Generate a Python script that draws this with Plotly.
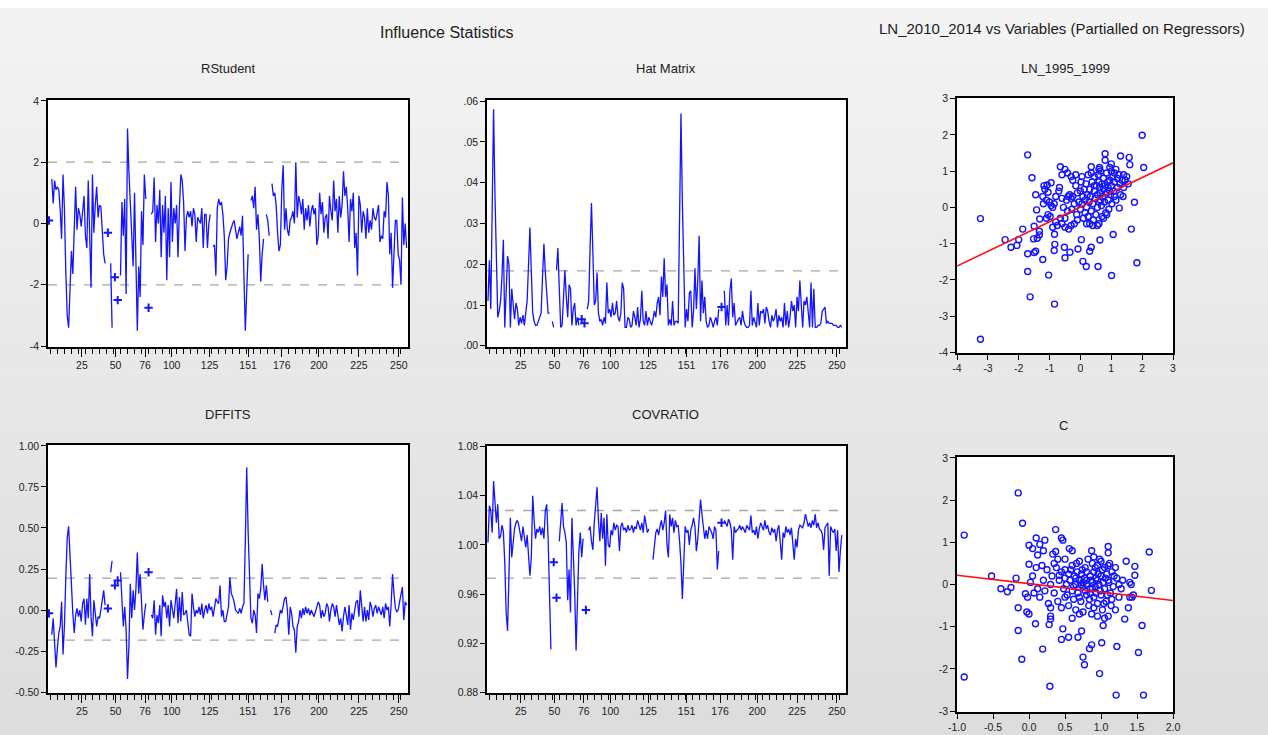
import plotly.graph_objects as go

# ---------------- DATA ----------------
rstudent = [
    0.1, None, 1.45, 0.65, 1.4, 1.1, 1.2, 1.1, 0.45, -0.5,
    1.6, 0.5, -1.6, -3.0, -3.4, -2.1, -0.9, -1.65, -0.2, 1.2,
    -0.2, 0.5, 0.3, -0.1, 0.4, 0.9, -0.4, -0.8, 1.4, -0.6,
    -2.1, 1.6, -0.3, 0.6, 1.2, 0.2, 0.6, 0.55, -0.3, -1.0,
    -1.3, None, -0.3, None, -1.3, -3.4, None, -1.75, None, -2.5,
    None, -1.7, 0.7, -0.4, 0.8, -2.3, 3.1, 1.7, 0.5, -0.3,
    -1.4, 1.0, -1.2, -3.5, -1.4, -2.4, 0.4, -0.7, 1.6, 0.8,
    None, -2.75, None, 0.3, 0.4, 1.5, -0.6, 0.6, 0.0, 1.1,
    -1.1, 0.6, -0.3, 0.9, -1.85, 0.5, -1.1, 1.35, -0.6, 0.5,
    0.0, 0.6, -1.1, 0.5, 1.6, 1.4, 0.7, -0.9, 0.2, 0.4,
    0.2, 0.4, -0.1, 0.5, 0.3, -0.6, 0.2, 0.1, 0.0, 0.5,
    -0.8, 0.3, 0.3, -0.8, 0.0, 0.3, None, -0.75, -0.7, -1.7,
    0.5, 0.8, 0.6, 0.7, 0.3, -0.4, -1.85, -1.4, -0.5, -0.3,
    -0.1, 0.0, 0.1, -0.3, -0.5, -0.3, -0.1, -0.4, 0.25, -1.7,
    -3.5, -2.2, -1.0, None, 0.75, 0.9, 0.5, 1.2, -0.2, 0.3,
    -0.5, -1.9, -1.0, -0.5, None, 0.3, 0.1, -0.4, None, 1.3,
    0.9, 1.0, 0.6, -0.3, -0.9, -0.7, 1.1, 1.9, -0.2, 0.5,
    -0.2, -0.4, 0.1, 0.2, 0.4, 0.0, 2.0, 0.2, 0.9, 0.7,
    0.3, 0.8, -0.2, 0.5, 0.1, 0.6, -0.1, 0.4, 0.6, 0.3,
    0.5, -0.7, -0.4, 1.0, 0.3, 0.7, -0.3, 0.2, 0.3, -0.5,
    0.9, 0.4, 0.1, 1.4, 0.4, 0.8, -0.3, 0.9, 0.2, 0.6,
    1.7, 0.9, 1.2, 0.5, -0.6, 0.8, 0.4, 1.0, -0.8, -0.3,
    -1.7, 0.9, 0.6, -0.3, 0.4, 0.2, -0.5, 0.5, -0.3, 0.1,
    -0.2, 0.5, 0.2, 0.1, 0.4, 0.6, -0.6, -0.4, -0.5, 0.4,
    0.2, 1.35, 0.9, -1.0, -0.3, -2.1, -1.0, 0.1, 0.1, -1.0,
    -1.2, -2.0, 0.85, -0.7, 0.0, -0.8,
]

hat_matrix = [
    0.011, 0.021, 0.009, 0.033, 0.058, 0.037, 0.018, 0.007, 0.0085, 0.011,
    0.017, 0.026, 0.0045, 0.015, 0.022, 0.020, 0.0045, 0.014, 0.010, 0.0065,
    0.0105, 0.009, 0.005, 0.007, 0.0055, 0.0075, 0.005, 0.009, 0.011, 0.020,
    0.029, 0.018, 0.008, 0.006, 0.005, 0.005, 0.006, 0.0075, 0.008, 0.017,
    0.025, 0.018, 0.0125, 0.008, 0.008, None, 0.006, 0.0045, None, 0.0185,
    0.024, 0.014, 0.0045, 0.005, 0.012, 0.0185, 0.012, 0.007, 0.015, 0.014,
    0.005, 0.009, 0.0105, 0.005, 0.007, 0.005, None, 0.0065, None, 0.0055,
    None, 0.009, 0.011, 0.024, 0.035, 0.023, 0.010, 0.011, 0.018, 0.008,
    0.006, 0.0065, 0.005, 0.007, 0.0055, 0.0155, 0.008, 0.009, 0.007, 0.0105,
    0.0075, 0.008, 0.011, 0.007, 0.006, 0.008, 0.0155, 0.014, 0.0045, 0.0045,
    0.007, 0.0065, 0.0045, 0.005, 0.0085, 0.007, 0.005, 0.0095, 0.0045, 0.0065,
    0.0135, 0.006, 0.005, 0.0085, 0.005, 0.007, 0.006, 0.005, 0.0065, 0.0085,
    0.007, 0.0105, 0.012, 0.0075, 0.017, 0.012, 0.0215, 0.012, 0.015, 0.005,
    0.0065, 0.005, 0.011, 0.005, 0.006, 0.006, 0.0055, 0.031, 0.057, 0.035,
    0.015, 0.0045, 0.009, 0.006, 0.013, 0.0135, 0.0045, 0.0085, 0.019, 0.009,
    0.016, 0.027, 0.006, 0.016, 0.008, 0.012, 0.006, 0.0045, 0.005, 0.007,
    0.006, 0.0045, 0.006, 0.007, 0.005, 0.009, None, 0.0095, None, 0.0135,
    0.005, 0.010, 0.005, 0.0135, 0.0165, 0.007, 0.0105, 0.005, 0.006, 0.0065,
    0.007, 0.005, 0.0085, 0.006, 0.005, 0.0045, 0.0045, 0.005, 0.0135, 0.005,
    0.007, 0.006, 0.0045, 0.0105, 0.005, 0.0085, 0.008, 0.009, 0.0055, 0.0095,
    0.0085, 0.006, 0.0045, 0.0075, 0.006, 0.007, 0.009, 0.0045, 0.0075, 0.006,
    0.007, 0.0045, 0.0105, 0.005, 0.0085, 0.0045, 0.007, 0.011, 0.0085, 0.010,
    0.0045, 0.012, 0.0085, 0.016, 0.0085, 0.0045, 0.011, 0.010, 0.012, 0.0075,
    0.0045, 0.0155, 0.0045, 0.014, 0.0045, 0.0045, 0.005, 0.005, 0.0055, 0.0085,
    0.009, 0.0095, 0.0055, 0.006, 0.0055, 0.0055, 0.0055, 0.005, 0.005, 0.005,
    0.0045, 0.0045, 0.005, 0.0045,
]

dffits = [
    -0.02, None, -0.15, -0.05, -0.2, -0.35, -0.23, -0.14, -0.1, 0.05,
    -0.27, -0.1, 0.2, 0.44, 0.51, 0.31, 0.12, -0.02, -0.14, -0.03,
    0.01, -0.04, 0.0, -0.07, 0.04, 0.07, -0.09, 0.07, -0.05, 0.22,
    -0.04, -0.16, 0.06, -0.02, -0.1, -0.04, -0.05, 0.0, 0.08, 0.12,
    0.03, None, 0.01, None, 0.23, 0.3, None, 0.15, None, 0.18,
    None, 0.23, 0.05, -0.1, 0.02, -0.12, -0.42, -0.22, 0.16, -0.05,
    0.12, 0.0, 0.13, 0.35, 0.1, 0.22, 0.05, -0.12, -0.03, 0.04,
    None, 0.23, None, -0.03, -0.05, 0.06, -0.15, -0.03, -0.08, 0.03,
    -0.16, 0.09, 0.02, 0.05, -0.05, 0.03, -0.1, 0.06, 0.0, -0.05,
    0.04, 0.13, -0.08, 0.08, -0.07, 0.11, -0.03, -0.02, 0.0, -0.09,
    -0.15, -0.16, 0.1, 0.02, -0.04, 0.0, -0.02, 0.02, -0.03, 0.04,
    -0.05, 0.0, 0.03, -0.02, 0.04, 0.0, 0.02, -0.04, 0.02, 0.07,
    0.05, 0.04, 0.15, -0.04, 0.0, -0.07, -0.07, -0.03, 0.02, 0.2,
    0.1, 0.08, 0.05, 0.0, -0.01, -0.02, 0.01, -0.02, 0.02, 0.04,
    0.42, 0.87, 0.48, 0.12, -0.05, -0.08, 0.0, -0.03, -0.14, 0.1,
    0.07, 0.13, 0.28, 0.15, 0.06, 0.15, 0.05, None, 0.0, -0.03,
    None, -0.14, -0.09, -0.1, -0.06, 0.0, -0.02, 0.04, 0.07, 0.08,
    0.0, -0.15, 0.02, -0.02, -0.1, -0.12, -0.26, -0.1, -0.07, 0.0,
    -0.05, 0.01, -0.03, 0.02, -0.02, 0.01, -0.03, 0.0, -0.02, -0.04,
    -0.01, 0.02, 0.05, 0.03, -0.05, 0.0, -0.04, -0.02, 0.04, 0.02,
    -0.07, 0.0, 0.04, 0.02, -0.04, 0.03, -0.02, -0.09, -0.05, -0.13,
    -0.04, 0.02, -0.03, -0.09, 0.03, -0.12, -0.02, -0.06, 0.0, 0.05,
    0.06, -0.04, 0.12, 0.03, -0.07, 0.02, -0.07, 0.0, -0.06, 0.05,
    0.02, -0.04, 0.01, 0.03, -0.02, 0.02, -0.01, -0.03, 0.02, -0.05,
    0.04, 0.0, 0.02, -0.1, 0.04, 0.22, 0.1, 0.01, -0.01, 0.0,
    0.05, 0.09, 0.14, -0.06, 0.05, 0.03,
]

covratio = [
    1.002, 1.032, 1.028, 1.010, 1.052, 1.033, 1.018, 1.033, 1.005, 1.007,
    1.016, 1.011, 0.986, 0.945, 0.930, 0.975, 1.022, 0.990, 1.005, 1.013,
    1.018, 1.020, 1.016, 1.010, 1.003, 1.015, 1.006, 0.998, 1.008, 0.993,
    0.975, 0.990, 1.040, 1.020, 1.005, 1.013, 1.010, 1.015, 1.008, 1.014,
    1.005, 1.028, 1.033, 1.005, 0.960, 0.915, None, 0.986, None, 0.957,
    None, 1.003, 1.020, 1.034, 1.015, 1.010, 1.002, 0.955, 0.980, 0.945,
    1.022, 0.995, 0.962, 0.914, 0.960, 0.995, 1.010, 0.990, 1.005, None,
    0.947, None, 1.012, 1.015, 1.003, 0.996, 1.018, 1.035, 1.047, 1.020,
    1.003, 1.026, 1.005, 1.022, 0.983, 1.025, 1.000, 0.998, 1.012, 1.008,
    1.018, 1.012, 1.016, 1.015, 0.995, 1.015, 1.018, 1.012, 1.014, 1.010,
    1.016, 1.012, 1.013, 1.016, 1.010, 1.015, 1.013, 1.020, 1.016, 1.012,
    1.018, 1.010, 1.024, 1.016, 1.010, 1.013, None, None, 0.988, 1.000,
    1.010, 1.013, 1.008, 1.015, 1.020, 1.012, 1.018, 1.028, 1.000, 0.990,
    1.025, 1.015, 1.022, 1.010, 1.020, 1.015, 1.016, 1.003, 0.985, 0.956,
    0.985, 1.015, 1.010, 1.012, 1.000, 1.012, 1.016, 1.022, 1.015, 0.995,
    1.005, 1.025, 1.037, 1.025, 1.015, 1.005, 1.012, 1.005, 1.015, 1.013,
    1.010, 1.005, 1.015, 1.012, 0.980, 0.995, None, 1.018, None, 1.020,
    1.017, 1.015, 1.021, 1.018, 1.012, 0.988, 1.015, 1.010, 1.012, 1.013,
    1.016, 1.012, 1.015, 1.013, 1.010, 1.016, 1.014, 1.012, 1.024, 1.010,
    1.012, 1.008, 1.015, 1.005, 1.013, 1.018, 1.015, 1.012, 1.020, 1.013,
    1.016, 1.010, 1.008, 1.014, 1.010, 1.013, 1.003, 1.012, 1.016, 1.000,
    0.988, 1.010, 1.006, 1.015, 1.010, 1.013, 1.008, 1.014, 1.000, 0.988,
    1.005, 0.998, 1.012, 1.016, 1.015, 1.014, 1.018, 1.025, 1.020, 1.015,
    1.018, 1.014, 1.020, 1.016, 1.025, 1.014, 1.018, 1.013, 1.012, 1.009,
    0.996, 1.014, 1.016, 1.018, 0.975, 1.015, 1.012, 1.010, 1.013, 0.995,
    1.012, 0.978, 0.996, 1.008,
]

# reference (cut-off) lines
rstudent_ref = [2.0, -2.0]
hat_ref = [0.0184]
dffits_ref = [0.195, -0.183]
covratio_ref = [1.028, 0.973]

# observation axis: labelled observations sit at irregular positions
obs_tick_pos = [24.5, 48.5, 69.5, 88.5, 115.5, 143, 167, 193.5, 222, 250.5]
obs_tick_lab = ["25", "50", "76", "100", "125", "151", "176", "200", "225", "250"]

# partial regression scatter: LN_1995_1999
ln95_x = [
    -3.24, -3.24, 2.0, 2.05, -1.71, -1.57, -2.44, -2.25, -2.06, -2.0, -1.87, -1.71, -1.71, -1.63,
    -1.03, -0.84, 1.01, 1.83, 1.75, 1.65, 1.06, 1.26, 0.57, 0.19, 0.08, 0.03, -0.08, 0.35, 0.3,
    0.63, -0.52, -0.5, -0.34, -0.85, -0.83, -0.84, -1.22, -1.45, -1.5, -1.33, -1.33, -1.52, -1.4,
    -1.5, -1.32, -1.42, -1.45, -1.22, -1.15, -1.18, -1.08, -1.05, -0.95, -0.65, -0.5, -0.42, -0.3,
    -0.15, 0.35, 0.6, 0.62, 0.8, 0.8, 1.3, 1.58, 1.6, 1.0, 0.95, 1.38, 1.45, 1.55, 1.4, 1.5, 1.2, 1.1,
    -1.2, -1.1, -1.0, -0.95, -1.05, -0.98, -0.9, -0.85, -0.8, -0.75, -0.7, -0.68, -0.6, -0.6, -0.55,
    -0.5, -0.5, -0.45, -0.42, -0.4, -0.38, -0.35, -0.3, -0.28, -0.25, -0.2, -0.2, -0.15, -0.12, -0.1,
    -0.05, 0.0, 0.0, 0.02, 0.05, 0.08, 0.1, 0.12, 0.15, 0.15, 0.18, 0.2, 0.22, 0.25, 0.25, 0.28, 0.3,
    0.3, 0.32, 0.35, 0.38, 0.4, 0.42, 0.45, 0.45, 0.48, 0.5, 0.52, 0.55, 0.55, 0.58, 0.6, 0.6, 0.62,
    0.65, 0.65, 0.68, 0.7, 0.7, 0.72, 0.75, 0.75, 0.78, 0.8, 0.82, 0.85, 0.85, 0.88, 0.9, 0.9, 0.92,
    0.95, 0.98, 1.0, 1.0, 1.02, 1.05, 1.08, 1.1, 1.15, 1.15, 1.2, 1.25, 1.28, 1.3, 1.35, 1.4, 0.55,
    0.4, 0.2, -0.1, -0.3, 0.75, 0.85, 0.6, 0.45, -0.65, -0.6, -0.8, -0.9, -1.1, -0.25, 0.05, 0.35,
    0.65, 0.95, 1.1,
]
ln95_y = [
    -0.31, -3.64, 1.99, 1.1, 1.45, 0.82, -0.89, -1.10, -1.05, -0.89, -0.6, -1.28, -1.77, -2.47,
    -1.87, -2.67, -1.88, -1.53, 0.14, -0.6, -0.75, -0.02, -1.63, -1.63, -1.49, -0.89, -1.15, -1.1, -1.21,
    -0.9, -1.1, -1.39, -1.24, -1.19, -1.02, -0.74, -1.44, -1.21, -1.25, -0.66, -0.76, -0.87, -0.85,
    -0.52, -0.32, -0.07, 0.35, 0.3, 0.5, 0.6, 0.62, 0.42, 0.68, 1.12, 1.05, 0.95, 0.85,
    0.9, 1.12, 1.05, 1.1, 1.48, 1.3, 1.42, 1.38, 1.18, 1.2, 1.1, 0.3, 0.75, 0.65, 0.9, 0.85, 0.8, 0.95,
    0.1, 0.2, 0.15, 0.05, -0.2, -0.25, 0.0, 0.1, -0.4, -0.5, 0.45, 0.55, -0.45, 0.25, 0.0,
    -0.3, -0.55, 0.2, -0.1, 0.3, -0.6, 0.35, 0.25, -0.05, 0.3, 0.1, -0.45, 0.6, -0.2, 0.4,
    0.15, 0.45, -0.05, 0.7, 0.1, 0.3, -0.3, 0.5, 0.2, -0.15, 0.65, 0.0, 0.35, -0.25, 0.9, 0.15, -0.45,
    0.5, 0.3, -0.1, 0.7, 0.1, -0.35, 0.45, 0.85, 0.25, -0.2, 0.6, 0.0, 0.35, 0.9, -0.45, 0.15, 0.55,
    0.4, 1.0, 0.05, 0.65, -0.25, 0.3, 0.8, 0.5, 0.15, 0.6, -0.15, 0.4, 0.95, 0.7, 0.2, 0.55, -0.05,
    0.75, 0.35, 0.6, 1.0, 0.1, 0.85, 0.45, 0.7, 0.2, 1.05, 0.55, 0.9, 0.65, 0.35, 0.75, 0.55, -0.5,
    -0.5, -0.45, -0.35, -0.5, -0.3, -0.2, 0.7, 0.6, -0.3, 0.9, 0.3, -0.55, -0.3, 0.75, 0.85, 0.95,
    0.2, 0.45, 0.3,
]
ln95_fit_x = [-4.0, 3.0]
ln95_fit_y = [-1.62, 1.23]

# partial regression scatter: C
c_x = [
    -0.9, -0.9, -0.15, -0.09, -0.52, -0.39, -0.3, -0.25, -0.18, -0.15, -0.15, -0.1, 0.29, 0.19, 0.09,
    0.98, 1.21, 1.59, 1.22, 1.52, 1.57, 1.67, 1.7, 1.47, 1.47, 1.35, 1.38, 1.33, 0.75, 0.77, 0.84,
    0.87, 1.01, 0.73, 0.68, 0.55, 0.45, 0.47, 1.03, 0.37, 0.45, 0.47, 0.56, 0.6, 0.87, 1.1, 1.1, 0.0,
    0.05, 0.1, 0.15, 0.12, 0.2, 0.22, 0.33, 0.37, -0.05, -0.02, 0.02, 0.0, 0.05, 0.07, -0.03, 0.0,
    0.28, 0.3, 0.3, 0.3, 0.27, 1.4, 1.42, 1.4, 1.43, 1.45,
    0.3, 0.32, 0.35, 0.38, 0.4, 0.42, 0.45, 0.45, 0.48, 0.5, 0.5, 0.52, 0.55, 0.55, 0.57, 0.6, 0.6,
    0.62, 0.63, 0.65, 0.65, 0.67, 0.68, 0.7, 0.7, 0.72, 0.73, 0.75, 0.75, 0.77, 0.78, 0.8, 0.8, 0.82,
    0.83, 0.85, 0.85, 0.87, 0.88, 0.88, 0.9, 0.9, 0.92, 0.93, 0.95, 0.95, 0.97, 0.98, 1.0, 1.0, 1.02,
    1.03, 1.05, 1.05, 1.07, 1.08, 1.1, 1.1, 1.12, 1.13, 1.15, 1.15, 1.17, 1.2, 1.2, 1.22, 1.25, 1.25,
    1.28, 1.3, 0.35, 0.4, 0.42, 0.5, 0.53, 0.58, 0.62, 0.66, 0.7, 0.74, 0.78, 0.8, 0.84, 0.86, 0.9,
    0.92, 0.96, 0.99, 1.02, 1.04, 1.06, 1.09, 1.11, 1.14, 1.18, 0.2, 0.22, 0.25, 0.15, 0.18, 0.1, 0.12,
    0.6, 0.7, 0.95, 1.05, 0.5, 0.9, 1.0, 1.1, 0.65, 0.75, 0.85, 0.95, 0.8, 0.88, 0.72, 0.93,
]
c_y = [
    1.17, -2.19, 2.17, 1.45, 0.2, -0.1, -0.17, -0.07, 0.15, -0.55, -1.09, -1.77, -2.41, -1.53, -0.93,
    -2.11, -2.62, -2.62, -1.47, -1.61, -0.97, 0.77, -0.14, 0.43, 0.22, 0.55, -0.55, -0.82, -1.72, -1.9, -1.52,
    -1.43, -1.38, -1.1, -1.25, -1.25, -1.3, -1.05, -0.97, 1.3, 1.1, 1.05, 0.85, 0.8, 0.8, 0.9, 0.75, 0.93,
    0.85, 1.1, 0.95, 0.7, 0.8, 1.05, 0.72, 0.78, -0.22, -0.3, 0.05, 0.48, 0.2, -0.2, -0.65, -0.7,
    -0.95, -0.75, -0.82, -0.55, -0.45, -0.3, 0.0, 0.05, -0.3, -0.25,
    0.0, 0.2, -0.2, 0.4, -0.4, 0.1, -0.55, 0.3, -0.1, 0.35, -0.3, 0.0, 0.25, -0.5, 0.1, -0.15, 0.45,
    -0.35, 0.2, 0.0, -0.6, 0.3, -0.2, 0.1, 0.55, -0.4, 0.25, -0.05, -0.65, 0.15, 0.4, -0.25, 0.0, 0.6,
    -0.5, 0.2, -0.1, -0.7, 0.5, 0.05, -0.3, 0.3, -0.05, 0.15, -0.45, 0.45, 0.0, 0.6, -0.25, 0.2, -0.6,
    0.05, 0.4, -0.1, -0.4, 0.25, -0.75, 0.1, 0.5, -0.2, -0.35, 0.3, -0.05, -0.6, 0.4, 0.15, -0.3, 0.0,
    -0.1, 0.1, 0.5, 0.6, 0.22, 0.15, -0.25, 0.35, -0.05, 0.5, -0.3, 0.35, -0.15, 0.3, -0.35, 0.1, -0.55,
    0.4, 0.25, -0.15, 0.35, -0.45, 0.15, -0.25, 0.05, -0.5, 0.2, 0.1, -0.15, 0.35, -0.3, 0.45, 0.4, -0.1,
    -0.8, -0.7, -0.75, -0.8, 0.6, 0.65, 0.55, 0.45, 0.15, 0.05, -0.2, 0.1, 0.1, -0.1, 0.0, -0.2,
]
c_fit_x = [-1.0, 2.0]
c_fit_y = [0.22, -0.38]

# ---------------- LAYOUT HELPERS ----------------
W, H = 1268, 735
BLUE = "#1414ff"
TXT = "#1c1c1c"
FONT = "Liberation Sans, Arial, sans-serif"


def xdom(l, r):
    return [l / W, r / W]


def ydom(t, b):
    return [1 - b / H, 1 - t / H]


fig = go.Figure()

# background: white strip on top, light-grey vertical gradient below
bg_shapes = [dict(type="rect", xref="paper", yref="paper", x0=0, x1=1, y0=1 - 8 / H, y1=1,
                  fillcolor="#ffffff", line_width=0, layer="below")]
nb = 24
top_c, bot_c = 0xF3, 0xDD
for i in range(nb):
    t = 8 + (H - 8) * i / nb
    b = 8 + (H - 8) * (i + 1) / nb
    v = round(top_c + (bot_c - top_c) * (i + 0.5) / nb)
    col = "#%02x%02x%02x" % (v, v, v)
    bg_shapes.append(dict(type="rect", xref="paper", yref="paper", x0=0, x1=1,
                          y0=1 - b / H, y1=1 - t / H + 0.0005,
                          fillcolor=col, line_width=0, layer="below"))
panel_shapes = []
ref_shapes = []

axis_common = dict(showline=True, linecolor="black", linewidth=1.5, mirror=True,
                   showgrid=False, zeroline=False, ticks="outside", ticklen=5,
                   tickcolor="black", tickwidth=1.2, automargin=False,
                   tickfont=dict(family=FONT, size=10.5, color=TXT))

obs_minor = list(range(2, 257, 5))


def white_panel(ax):
    panel_shapes.append(dict(type="rect", xref="x" + ax + " domain", yref="y" + ax + " domain",
                             x0=0, x1=1, y0=0, y1=1, fillcolor="white", line_width=0,
                             layer="below"))


def series_panel(n, y, ydomain, xdomain, yrange, ytv, ytt, refs):
    xs = list(range(1, len(y) + 1))
    ax = "" if n == 1 else str(n)
    white_panel(ax)
    fig.add_trace(go.Scatter(x=xs, y=y, mode="lines", line=dict(color=BLUE, width=1.3),
                             connectgaps=False, xaxis="x" + ax, yaxis="y" + ax,
                             showlegend=False, hoverinfo="skip"))
    iso_x, iso_y = [], []
    for i, v in enumerate(y):
        if v is None:
            continue
        prev_none = i == 0 or y[i - 1] is None
        next_none = i == len(y) - 1 or y[i + 1] is None
        if prev_none and next_none:
            iso_x.append(xs[i])
            iso_y.append(v)
    fig.add_trace(go.Scatter(x=iso_x, y=iso_y, mode="markers",
                             marker=dict(symbol="cross-thin", size=6,
                                         line=dict(color=BLUE, width=2)),
                             xaxis="x" + ax, yaxis="y" + ax, showlegend=False,
                             hoverinfo="skip"))
    for r in refs:
        ref_shapes.append(dict(type="line", xref="x" + ax + " domain",
                               yref="y" + ax, x0=0, x1=1, y0=r, y1=r,
                               line=dict(color="#a6a6a6", width=1.3, dash="dash"),
                               layer="below"))
    fig.update_layout(**{
        "xaxis" + ax: dict(axis_common, domain=xdomain, range=[0.3, 257.0],
                           tickmode="array", tickvals=obs_tick_pos, ticktext=obs_tick_lab,
                           ticklen=8,
                           minor=dict(ticks="outside", ticklen=5, tickcolor="black",
                                      tickwidth=1.2, tickmode="array", tickvals=obs_minor),
                           anchor="y" + ax),
        "yaxis" + ax: dict(axis_common, domain=ydomain, range=yrange,
                           tickmode="array", tickvals=ytv, ticktext=ytt,
                           anchor="x" + ax),
    })


def scatter_panel(n, sx, sy, fx, fy, xdomain, ydomain, xrange, yrange, xtv, xtt, ytv, ytt):
    ax = str(n)
    white_panel(ax)
    fig.add_trace(go.Scatter(x=sx, y=sy, mode="markers",
                             marker=dict(symbol="circle-open", size=6,
                                         line=dict(color=BLUE, width=1.4), color=BLUE),
                             xaxis="x" + ax, yaxis="y" + ax, showlegend=False,
                             hoverinfo="skip"))
    fig.add_trace(go.Scatter(x=fx, y=fy, mode="lines", line=dict(color="#ff1010", width=1.6),
                             xaxis="x" + ax, yaxis="y" + ax, showlegend=False,
                             hoverinfo="skip"))
    fig.update_layout(**{
        "xaxis" + ax: dict(axis_common, domain=xdomain, range=xrange,
                           tickmode="array", tickvals=xtv, ticktext=xtt, anchor="y" + ax),
        "yaxis" + ax: dict(axis_common, domain=ydomain, range=yrange,
                           tickmode="array", tickvals=ytv, ticktext=ytt, anchor="x" + ax),
    })


# RStudent
series_panel(1, rstudent, ydom(100, 347), xdom(48, 408), [-4.03, 4.03],
             [-4, -2, 0, 2, 4], ["-4", "-2", "0", "2", "4"], rstudent_ref)
# Hat matrix
series_panel(2, hat_matrix, ydom(100, 347), xdom(487, 846), [-0.0003, 0.0603],
             [0, 0.01, 0.02, 0.03, 0.04, 0.05, 0.06],
             [".00", ".01", ".02", ".03", ".04", ".05", ".06"], hat_ref)
# DFFITS
series_panel(4, dffits, ydom(445, 693), xdom(48, 408), [-0.505, 1.005],
             [-0.5, -0.25, 0, 0.25, 0.5, 0.75, 1.0],
             ["-0.50", "-0.25", "0.00", "0.25", "0.50", "0.75", "1.00"], dffits_ref)
# COVRATIO
series_panel(5, covratio, ydom(446, 693), xdom(487, 846), [0.8795, 1.0805],
             [0.88, 0.92, 0.96, 1.00, 1.04, 1.08],
             ["0.88", "0.92", "0.96", "1.00", "1.04", "1.08"], covratio_ref)

# scatter LN_1995_1999
scatter_panel(3, ln95_x, ln95_y, ln95_fit_x, ln95_fit_y, xdom(957, 1173), ydom(98, 353),
              [-4.0, 3.0], [-4.02, 3.02],
              [-4, -3, -2, -1, 0, 1, 2, 3], ["-4", "-3", "-2", "-1", "0", "1", "2", "3"],
              [-4, -3, -2, -1, 0, 1, 2, 3], ["-4", "-3", "-2", "-1", "0", "1", "2", "3"])
# scatter C
scatter_panel(6, c_x, c_y, c_fit_x, c_fit_y, xdom(957, 1173), ydom(457, 712),
              [-1.0, 2.0], [-3.02, 3.02],
              [-1.0, -0.5, 0.0, 0.5, 1.0, 1.5, 2.0],
              ["-1.0", "-0.5", "0.0", "0.5", "1.0", "1.5", "2.0"],
              [-3, -2, -1, 0, 1, 2, 3], ["-3", "-2", "-1", "0", "1", "2", "3"])


# titles
def label(text, x, y, size):
    return dict(text=text, x=x / W, y=1 - y / H, xref="paper", yref="paper",
                showarrow=False, xanchor="center", yanchor="middle",
                font=dict(family=FONT, size=size, color=TXT))


annotations = [
    label("Influence Statistics", 447, 32, 16),
    label("LN_2010_2014 vs Variables (Partialled on Regressors)", 1062, 29, 15),
    label("RStudent", 228, 68, 13),
    label("Hat Matrix", 666, 68, 13),
    label("LN_1995_1999", 1065, 68, 13),
    label("DFFITS", 228, 415, 13),
    label("COVRATIO", 666, 415, 13),
    label("C", 1063, 426, 13),
]

fig.update_layout(template="none", width=W, height=H, margin=dict(l=0, r=0, t=0, b=0, pad=0),
                  paper_bgcolor="#eeeeee", plot_bgcolor="white",
                  shapes=bg_shapes + panel_shapes + ref_shapes,
                  annotations=annotations, showlegend=False)

fig.write_html("out.html", include_plotlyjs=True, config={"displayModeBar": False},
               post_script="document.body.style.margin='0';document.body.style.padding='0';"
                           "document.body.style.overflow='hidden';")
